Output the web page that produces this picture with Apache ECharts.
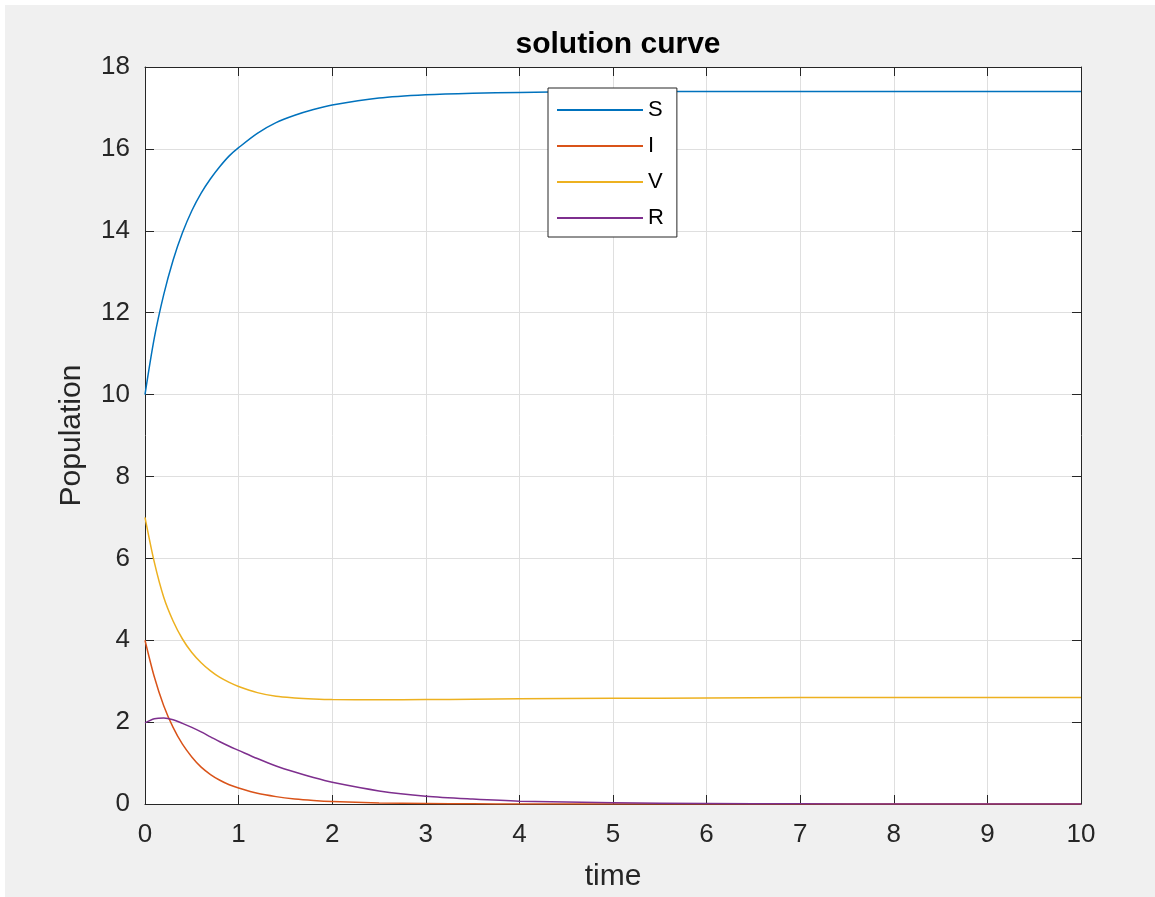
<!DOCTYPE html>
<html>
<head>
<meta charset="utf-8">
<script src="https://cdn.jsdelivr.net/npm/echarts@6/dist/echarts.min.js"></script>
<style>
  html, body { margin: 0; padding: 0; background: #fff; }
  #chart { position: absolute; left: 5px; top: 5px; width: 1150px; height: 892px; background: #f0f0f0; }
</style>
</head>
<body>
<div id="chart"></div>
<script>
// values
const times = [0, 0.1, 0.2, 0.3, 0.4, 0.5, 0.6, 0.7, 0.8, 0.9, 1.0, 1.2, 1.4, 1.6, 1.8, 2.0, 2.5, 3, 3.5, 4, 5, 6, 7, 8, 9, 10];
const S = [10, 11.39, 12.44, 13.28, 13.95, 14.49, 14.92, 15.27, 15.57, 15.83, 16.03, 16.38, 16.64, 16.82, 16.96, 17.07, 17.24, 17.32, 17.36, 17.38, 17.4, 17.4, 17.4, 17.4, 17.4, 17.4];
const I = [4.0, 3.1, 2.4, 1.87, 1.46, 1.15, 0.9, 0.72, 0.58, 0.47, 0.39, 0.26, 0.18, 0.125, 0.088, 0.062, 0.025, 0.01, 0.004, 0.002, 0, 0, 0, 0, 0, 0];
const V = [7.0, 5.9, 5.05, 4.47, 4.03, 3.7, 3.45, 3.25, 3.09, 2.97, 2.87, 2.72, 2.63, 2.59, 2.565, 2.55, 2.545, 2.55, 2.56, 2.57, 2.58, 2.59, 2.6, 2.6, 2.6, 2.6];
const R = [1.98, 2.08, 2.1, 2.06, 1.97, 1.87, 1.76, 1.64, 1.52, 1.41, 1.31, 1.11, 0.93, 0.78, 0.645, 0.53, 0.32, 0.19, 0.12, 0.07, 0.03, 0.01, 0.004, 0, 0, 0];
const names = ['S', 'I', 'V', 'R'];
const colors = ['#0072BD', '#D95319', '#EDB120', '#7E2F8E'];

const font = '"Liberation Sans", Arial, Helvetica, sans-serif';
const ink = '#262626';

function pairs(vals) {
  return times.map((t, i) => [t, vals[i]]);
}

const chart = echarts.init(document.getElementById('chart'));

// top / right box edges with inward ticks, like matlab's "box on"
const hiddenAxis = {
  axisLabel: { show: false },
  splitLine: { show: false },
  axisLine: { show: true, onZero: false, lineStyle: { color: ink, width: 1 } },
  axisTick: { show: true, inside: true, length: 9, lineStyle: { color: ink } }
};

chart.setOption({
  animation: false,
  title: {
    text: 'solution curve',
    left: 608, top: 20, textAlign: 'center',
    textStyle: { fontFamily: font, fontSize: 30, fontWeight: 'bold', color: '#000' }
  },
  grid: { left: 140, top: 62, right: 74, bottom: 93, show: true, backgroundColor: '#fff', borderWidth: 0 },
  legend: {
    orient: 'vertical',
    left: 543, top: 83,
    data: names,
    icon: 'rect',
    itemWidth: 86, itemHeight: 2,
    itemGap: 14,
    padding: [11, 13, 8, 9],
    backgroundColor: '#fff',
    borderColor: ink, borderWidth: 1,
    textStyle: { fontFamily: font, fontSize: 22, color: '#000' }
  },
  xAxis: [{
    type: 'value', min: 0, max: 10, interval: 1,
    name: 'time', nameLocation: 'middle', nameGap: 58,
    nameTextStyle: { fontFamily: font, fontSize: 30, color: ink },
    axisLine: { show: true, onZero: false, lineStyle: { color: ink, width: 1 } },
    axisTick: { show: true, inside: true, length: 9, lineStyle: { color: ink } },
    axisLabel: { fontFamily: font, fontSize: 26, color: ink, margin: 18 },
    splitLine: { show: true, lineStyle: { color: '#dfdfdf', width: 1 } }
  }, Object.assign({ type: 'value', min: 0, max: 10, interval: 1, position: 'top' }, hiddenAxis)],
  yAxis: [{
    type: 'value', min: 0, max: 18, interval: 2,
    name: 'Population', nameLocation: 'middle', nameGap: 58,
    nameTextStyle: { fontFamily: font, fontSize: 30, color: ink },
    axisLine: { show: true, onZero: false, lineStyle: { color: ink, width: 1 } },
    axisTick: { show: true, inside: true, length: 9, lineStyle: { color: ink } },
    axisLabel: { fontFamily: font, fontSize: 26, color: ink, margin: 15 },
    splitLine: { show: true, lineStyle: { color: '#dfdfdf', width: 1 } }
  }, Object.assign({ type: 'value', min: 0, max: 18, interval: 2, position: 'right' }, hiddenAxis)],
  series: [S, I, V, R].map((vals, k) => ({
    name: names[k],
    type: 'line',
    data: pairs(vals),
    showSymbol: false,
    smooth: 0.3,
    lineStyle: { color: colors[k], width: 1.5 },
    itemStyle: { color: colors[k] }
  }))
});
</script>
</body>
</html>
